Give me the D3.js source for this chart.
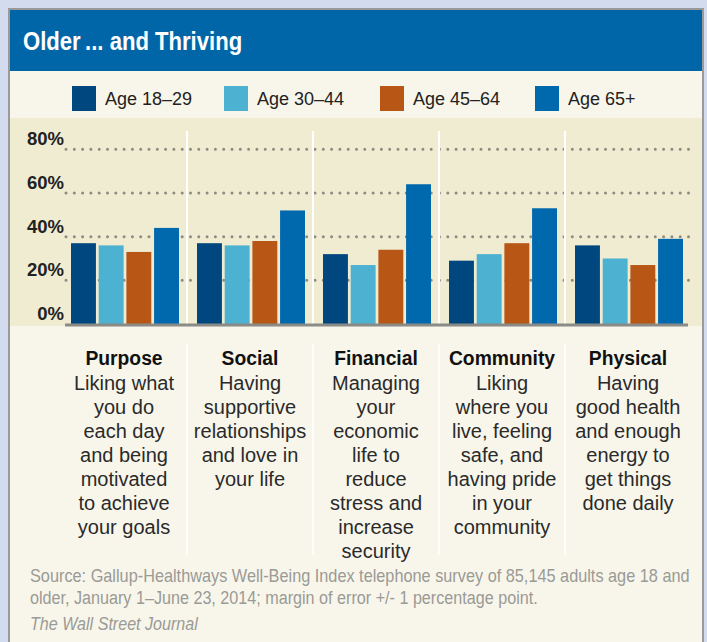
<!DOCTYPE html>
<html>
<head>
<meta charset="utf-8">
<script src="https://cdn.jsdelivr.net/npm/d3@7"></script>
<style>
  body { margin: 0; background: #d3dcee; }
  svg { display: block; }
</style>
</head>
<body>
<div id="chart"></div>
<script>
// data
const categories = ["Purpose", "Social", "Financial", "Community", "Physical"];
const series = ["Age 18\u201329", "Age 30\u201344", "Age 45\u201364", "Age 65+"];
const age18_29 = [37, 37, 32, 29, 36];
const age30_44 = [36, 36, 27, 32, 30];
const age45_64 = [33, 38, 34, 37, 27];
const age65plus = [44, 52, 64, 53, 39];
const yTicks = [0, 20, 40, 60, 80];
const descriptions = [
  ["Liking what", "you do", "each day", "and being", "motivated", "to achieve", "your goals"],
  ["Having", "supportive", "relationships", "and love in", "your life"],
  ["Managing", "your", "economic", "life to", "reduce", "stress and", "increase", "security"],
  ["Liking", "where you", "live, feeling", "safe, and", "having pride", "in your", "community"],
  ["Having", "good health", "and enough", "energy to", "get things", "done daily"]
];
const sourceLines = [
  "Source: Gallup-Healthways Well-Being Index telephone survey of 85,145 adults age 18 and",
  "older, January 1\u2013June 23, 2014; margin of error +/- 1 percentage point."
];
const colors = ["#00467f", "#4db1d1", "#b85615", "#0068ac"];

const values = [age18_29, age30_44, age45_64, age65plus];
const data = categories.map((c, i) => ({cat: c, vals: values.map(v => v[i])}));

const W = 707, H = 642;
const font = "'Liberation Sans', Arial, Helvetica, sans-serif";

const svg = d3.select("#chart").append("svg")
  .attr("width", W).attr("height", H)
  .style("font-family", font);

// outer background + card
svg.append("rect").attr("width", W).attr("height", H).attr("fill", "#d3dcee");
svg.append("rect").attr("x", 9).attr("y", 9).attr("width", 694).attr("height", H)
  .attr("fill", "#f8f6ea").attr("stroke", "#9a9a9a").attr("stroke-width", 2);

// header
svg.append("rect").attr("x", 10).attr("y", 10).attr("width", 692).attr("height", 61)
  .attr("fill", "#0066a8");
svg.append("text")
  .attr("transform", "translate(23,50) scale(0.85,1)")
  .attr("fill", "#fff")
  .style("font-weight", "bold").style("font-size", "26px")
  .text("Older\u2009... and Thriving");

// plot background
svg.append("rect").attr("x", 10).attr("y", 118).attr("width", 692).attr("height", 208)
  .attr("fill", "#f0ecd2");

// legend
const legendX = [72, 224, 380, 535];
const legend = svg.append("g").selectAll("g")
  .data(series)
  .join("g")
    .attr("transform", (d, i) => `translate(${legendX[i]},86)`);
legend.append("rect").attr("width", 24).attr("height", 25).attr("fill", (d, i) => colors[i]);
legend.append("text").attr("x", 33).attr("y", 19)
  .attr("fill", "#222")
  .style("font-size", "18px")
  .text(d => d);

// scales
const x0 = d3.scaleBand().domain(categories).range([61, 691]);
const x1 = d3.scaleBand().domain(d3.range(series.length))
  .range([10, 118]).paddingInner(0.1);
const y = d3.scaleLinear().domain([0, 80]).range([324, 149.3]);

// dotted gridlines
svg.append("g").selectAll("line")
  .data(yTicks.filter(t => t > 0))
  .join("line")
    .attr("x1", 66).attr("x2", 690)
    .attr("y1", d => y(d)).attr("y2", d => y(d))
    .attr("stroke", "#8c8a84").attr("stroke-width", 3)
    .attr("stroke-linecap", "round").attr("stroke-dasharray", "0,8.3");

// white separators between groups
svg.append("g").selectAll("line")
  .data(categories.slice(1))
  .join("line")
    .attr("x1", d => x0(d)).attr("x2", d => x0(d))
    .attr("y1", 131).attr("y2", y(0))
    .attr("stroke", "#fff").attr("stroke-width", 2);

// bars
svg.append("g").selectAll("g")
  .data(data)
  .join("g")
    .attr("transform", d => `translate(${x0(d.cat)},0)`)
  .selectAll("rect")
  .data(d => d.vals)
  .join("rect")
    .attr("x", (d, i) => x1(i))
    .attr("width", x1.bandwidth())
    .attr("y", d => y(d))
    .attr("height", d => y(0) - y(d))
    .attr("fill", (d, i) => colors[i]);

// baseline
svg.append("line").attr("x1", 65).attr("x2", 688)
  .attr("y1", y(0) + 1).attr("y2", y(0) + 1)
  .attr("stroke", "#8a8a86").attr("stroke-width", 3);

// y labels
svg.append("g").selectAll("text")
  .data(yTicks)
  .join("text")
    .attr("x", 64).attr("y", d => y(d) - 4)
    .attr("text-anchor", "end")
    .attr("fill", "#222")
    .style("font-weight", "bold").style("font-size", "18.5px")
    .text(d => d + "%");

// separators in text area
svg.append("g").selectAll("line")
  .data(categories.slice(1))
  .join("line")
    .attr("x1", d => x0(d)).attr("x2", d => x0(d))
    .attr("y1", 344).attr("y2", 555)
    .attr("stroke", "#ffffff").attr("stroke-width", 1.5);

// category labels + descriptions
const labels = svg.append("g").selectAll("g")
  .data(categories)
  .join("g")
    .attr("transform", d => `translate(${x0(d) + x0.bandwidth() / 2},0)`);
labels.append("text")
  .attr("transform", "translate(0,365) scale(0.92,1)")
  .attr("text-anchor", "middle").attr("fill", "#111")
  .style("font-weight", "bold").style("font-size", "21px")
  .text(d => d);
labels.each(function(d, i) {
  d3.select(this).selectAll("text.desc")
    .data(descriptions[i])
    .join("text")
      .attr("class", "desc")
      .attr("y", (t, j) => 390 + j * 24)
      .attr("text-anchor", "middle").attr("fill", "#2a2a2a")
      .style("font-size", "20px")
      .text(t => t);
});

// source + credit, squeezed horizontally to the widths seen in the picture
function fitText(txt, x, yPos, width, italic) {
  const t = svg.append("text").attr("fill", "#9a9a96")
    .style("font-size", "18px")
    .style("font-style", italic ? "italic" : "normal")
    .text(txt);
  const k = width / t.node().getComputedTextLength();
  t.attr("transform", `translate(${x},${yPos}) scale(${k},1)`);
}
fitText(sourceLines[0], 30, 582, 660, false);
fitText(sourceLines[1], 30, 604, 508, false);
fitText("The Wall Street Journal", 30, 630, 168, true);
</script>
</body>
</html>
